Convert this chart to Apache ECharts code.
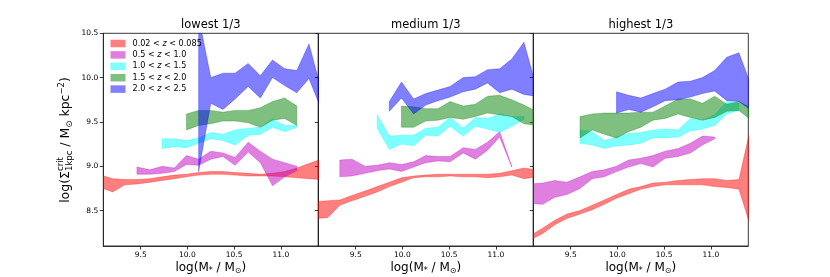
<!DOCTYPE html>
<html><head><meta charset="utf-8">
<script src="https://cdn.jsdelivr.net/npm/echarts@6/dist/echarts.min.js"></script>
<style>html,body{margin:0;padding:0;background:#fff}#c{width:830px;height:277px}</style>
</head><body><div id="c"></div>
<script>
// ---- data ----
const panelTitles = ['lowest 1/3', 'medium 1/3', 'highest 1/3'];
const zLabels = ['0.02 < z < 0.085', '0.5 < z < 1.0', '1.0 < z < 1.5', '1.5 < z < 2.0', '2.0 < z < 2.5'];
const xTicks = [9.5, 10.0, 10.5, 11.0];
const yTicks = [8.5, 9.0, 9.5, 10.0, 10.5];
const X = [9.07, 9.20, 9.33, 9.46, 9.60, 9.73, 9.86, 9.99, 10.12, 10.25, 10.38, 10.51, 10.65, 10.78, 10.91, 11.04, 11.17, 11.30, 11.43];
const _ = null;
// panel 1: lowest
const redLo1 = [8.76, 8.71, 8.79, 8.80, 8.82, 8.84, 8.86, 8.88, 8.90, 8.91, 8.91, 8.90, 8.89, 8.89, 8.89, 8.88, 8.87, 8.86, 8.85];
const redHi1 = [8.90, 8.86, 8.85, 8.85, 8.86, 8.88, 8.90, 8.91, 8.93, 8.94, 8.94, 8.93, 8.92, 8.91, 8.92, 8.94, 8.98, 9.03, 9.08];
const magLo1 = [_, _, _, 8.91, 8.91, 8.92, 8.94, 9.02, 9.01, 9.08, 9.11, 9.01, 9.16, 9.04, 8.78, 8.88, 8.95, _, _];
const magHi1 = [_, _, _, 8.99, 8.96, 9.00, 8.98, 9.12, 9.08, 9.17, 9.15, 9.10, 9.27, 9.17, 9.08, 9.04, 9.00, _, _];
const cyaLo1 = [_, _, _, _, _, 9.20, 9.22, 9.21, 9.26, 9.31, 9.29, 9.24, 9.35, 9.36, 9.44, 9.39, 9.44, _, _];
const cyaHi1 = [_, _, _, _, _, 9.31, 9.31, 9.29, 9.32, 9.38, 9.36, 9.41, 9.43, 9.44, 9.53, 9.46, 9.46, _, _];
const grnLo1 = [_, _, _, _, _, _, _, 9.41, 9.46, 9.48, 9.51, 9.51, 9.49, 9.44, 9.52, 9.54, 9.46, _, _];
const grnHi1 = [_, _, _, _, _, _, _, 9.59, 9.63, 9.63, 9.61, 9.63, 9.63, 9.66, 9.73, 9.77, 9.68, _, _];
const bluLo1 = [_, _, _, _, _, _, _, _, 8.94, 9.71, 9.64, 9.76, 9.90, 9.77, 10.00, 9.91, 9.83, 9.99, 9.65];
const bluHi1 = [_, _, _, _, _, _, _, _, 10.68, 10.00, 10.05, 10.05, 10.16, 10.02, 10.20, 10.10, 10.08, 10.38, 9.87];
// panel 2: medium
const redLo2 = [8.41, 8.42, 8.56, 8.61, 8.66, 8.71, 8.77, 8.82, 8.87, 8.88, 8.88, 8.89, 8.88, 8.88, 8.87, 8.88, 8.90, 8.86, 8.88];
const redHi2 = [8.60, 8.61, 8.62, 8.67, 8.72, 8.77, 8.82, 8.87, 8.89, 8.90, 8.91, 8.91, 8.91, 8.91, 8.91, 8.92, 8.95, 8.98, 8.96];
const magLo2 = [_, _, 8.88, 8.89, 8.92, 8.95, 8.97, 8.94, 8.99, 9.04, 9.06, 9.05, 9.15, 9.08, 9.18, 9.33, 8.99, _, _];
const magHi2 = [_, _, 9.07, 9.08, 9.00, 9.01, 9.04, 9.02, 9.05, 9.12, 9.11, 9.11, 9.21, 9.19, 9.27, 9.39, 9.00, _, _];
const cyaLo2 = [_, _, _, _, _, 9.43, 9.19, 9.25, 9.23, 9.35, 9.34, 9.45, 9.34, 9.45, 9.42, 9.38, 9.45, 9.53, _];
const cyaHi2 = [_, _, _, _, _, 9.58, 9.34, 9.35, 9.35, 9.43, 9.44, 9.55, 9.43, 9.55, 9.54, 9.59, 9.56, 9.56, _];
const grnLo2 = [_, _, _, _, _, _, _, 9.44, 9.44, 9.51, 9.52, 9.55, 9.53, 9.56, 9.60, 9.58, 9.56, 9.48, 9.46];
const grnHi2 = [_, _, _, _, _, _, _, 9.68, 9.67, 9.65, 9.65, 9.73, 9.68, 9.70, 9.79, 9.80, 9.75, 9.69, 9.62];
const bluLo2 = [_, _, _, _, _, _, 9.62, 9.77, 9.59, 9.69, 9.74, 9.78, 9.84, 9.87, 9.94, 9.83, 9.87, 9.81, 9.79];
const bluHi2 = [_, _, _, _, _, _, 9.73, 9.95, 9.76, 9.82, 9.86, 9.90, 10.00, 10.01, 10.09, 10.10, 10.21, 10.40, 9.90];
// panel 3: highest
const redLo3 = [8.17, 8.24, 8.34, 8.41, 8.46, 8.51, 8.57, 8.64, 8.69, 8.74, 8.77, 8.79, 8.79, 8.79, 8.79, 8.77, 8.76, 8.74, 8.30];
const redHi3 = [8.22, 8.30, 8.39, 8.46, 8.50, 8.56, 8.62, 8.68, 8.74, 8.77, 8.81, 8.82, 8.84, 8.85, 8.86, 8.86, 8.84, 8.85, 9.46];
const magLo3 = [8.58, 8.57, 8.65, 8.68, 8.75, 8.86, 8.88, 8.94, 8.99, 9.03, 8.99, 9.09, 9.11, 9.15, 9.24, 9.31, _, _, _];
const magHi3 = [8.80, 8.81, 8.84, 8.82, 8.88, 8.94, 8.96, 9.00, 9.07, 9.09, 9.12, 9.17, 9.20, 9.26, 9.34, 9.33, _, _, _];
const cyaLo3 = [_, _, _, _, 9.26, 9.24, 9.20, 9.23, 9.24, 9.26, 9.32, 9.32, 9.33, 9.40, 9.42, 9.46, 9.59, 9.63, _];
const cyaHi3 = [_, _, _, _, 9.41, 9.39, 9.29, 9.33, 9.37, 9.38, 9.41, 9.42, 9.41, 9.54, 9.52, 9.58, 9.73, 9.71, _];
const grnLo3 = [_, _, _, _, 9.32, 9.41, 9.36, 9.32, 9.39, 9.44, 9.52, 9.54, 9.59, 9.55, 9.52, 9.55, 9.62, 9.63, 9.52];
const grnHi3 = [_, _, _, _, 9.56, 9.59, 9.60, 9.60, 9.60, 9.61, 9.61, 9.68, 9.76, 9.76, 9.71, 9.79, 9.70, 9.73, 9.66];
const bluLo3 = [_, _, _, _, _, _, _, 9.60, 9.64, 9.61, 9.67, 9.74, 9.75, 9.78, 9.82, 9.85, 9.74, 9.73, 9.63];
const bluHi3 = [_, _, _, _, _, _, _, 9.84, 9.80, 9.77, 9.82, 9.87, 9.95, 9.96, 10.00, 10.08, 10.23, 10.28, 9.91];

const panels = [
  [[redLo1, redHi1], [magLo1, magHi1], [cyaLo1, cyaHi1], [grnLo1, grnHi1], [bluLo1, bluHi1]],
  [[redLo2, redHi2], [magLo2, magHi2], [cyaLo2, cyaHi2], [grnLo2, grnHi2], [bluLo2, bluHi2]],
  [[redLo3, redHi3], [magLo3, magHi3], [cyaLo3, cyaHi3], [grnLo3, grnHi3], [bluLo3, bluHi3]]
];

// ---- style ----
const COLORS = ['rgba(255,0,0,0.5)', 'rgba(191,0,191,0.5)', 'rgba(0,255,255,0.5)', 'rgba(0,128,0,0.5)', 'rgba(0,0,255,0.5)'];
const FONT = '"DejaVu Sans", sans-serif';
const GL = [103.3, 318.3, 533.3], GT = 33.3, GW = 215, GH = 212.7;

const chart = echarts.init(document.getElementById('c'), null, {renderer: 'canvas'});

function bandSeries(p, b, lo, hi) {
  const pts = [];
  X.forEach((x, i) => { if (lo[i] != null && hi[i] != null) pts.push([x, lo[i], hi[i]]); });
  return {
    type: 'custom', name: zLabels[b], xAxisIndex: p, yAxisIndex: p, clip: true, silent: true,
    itemStyle: {color: COLORS[b]},
    data: pts, encode: {x: 0, y: [1, 2]},
    renderItem: function (params, api) {
      if (params.dataIndex !== 0) return null;
      const upper = pts.map(d => api.coord([d[0], d[2]]));
      const lower = pts.map(d => api.coord([d[0], d[1]])).reverse();
      return {type: 'polygon', shape: {points: upper.concat(lower)},
        style: {fill: COLORS[b], stroke: COLORS[b], lineWidth: 0.6}};
    }
  };
}

const series = [];
panels.forEach((bands, p) => bands.forEach((bd, b) => series.push(bandSeries(p, b, bd[0], bd[1]))));

const axisLineStyle = {color: '#222', width: 0.9};
const grids = GL.map(l => ({left: l, top: GT, width: GW, height: GH, show: true, borderColor: '#222', borderWidth: 0.9, backgroundColor: 'transparent', containLabel: false}));
const xAxes = GL.map((l, p) => ({
  gridIndex: p, type: 'value', min: 9.1, max: 11.4,
  axisLine: {show: true, onZero: false, lineStyle: axisLineStyle},
  axisTick: {show: true, length: 3.5, customValues: xTicks, lineStyle: axisLineStyle},
  axisLabel: {customValues: xTicks, fontSize: 7.5, color: '#000', fontFamily: FONT, margin: 5, formatter: v => v.toFixed(1)},
  splitLine: {show: false}
}));
const yAxes = GL.map((l, p) => ({
  gridIndex: p, type: 'value', min: 8.1, max: 10.5,
  axisLine: {show: true, onZero: false, lineStyle: axisLineStyle},
  axisTick: {show: true, length: 3.5, customValues: yTicks, lineStyle: axisLineStyle},
  axisLabel: {show: p === 0, customValues: yTicks, fontSize: 7.5, color: '#000', fontFamily: FONT, margin: 5, formatter: v => v.toFixed(1)},
  splitLine: {show: false}
}));

// text layout helper for math-like labels
const mctx = document.createElement('canvas').getContext('2d');
function measure(t, s) { mctx.font = s + 'px ' + FONT; return mctx.measureText(t).width; }
function mathLabel(parts, cx, cy, rot) {
  let x = 0; const items = [];
  for (let i = 0; i < parts.length; i++) {
    const pt = parts[i];
    const w = measure(pt.t, pt.s);
    items.push({t: pt.t, s: pt.s, dy: pt.dy || 0, x: x});
    if (pt.stack) {
      const nx = parts[i + 1]; const w2 = measure(nx.t, nx.s);
      items.push({t: nx.t, s: nx.s, dy: nx.dy || 0, x: x});
      x += Math.max(w, w2); i++;
    } else x += w;
  }
  const W = x;
  return {
    type: 'group', x: cx, y: cy, rotation: rot || 0,
    children: items.map(it => ({type: 'text', x: it.x - W / 2, y: it.dy,
      style: {text: it.t, font: it.s + 'px ' + FONT, fill: '#000', verticalAlign: 'middle', align: 'left'}}))
  };
}

const yS = 12.5, ys = 8.5;
const yLabel = mathLabel([
  {t: 'log(Σ', s: yS}, {t: 'crit', s: ys, dy: -5, stack: true}, {t: '1kpc', s: ys, dy: 4},
  {t: ' / M', s: yS}, {t: '⊙', s: ys, dy: 3.5}, {t: ' kpc', s: yS}, {t: '−2', s: ys, dy: -4.5}, {t: ')', s: yS}
], 66, 140, Math.PI / 2);
const xS = 12, xs = 8;
const xLabels = GL.map(l => mathLabel([
  {t: 'log(M', s: xS}, {t: '*', s: xs, dy: 3.5}, {t: ' / M', s: xS}, {t: '⊙', s: xs, dy: 3.5}, {t: ')', s: xS}
], l + GW / 2, 267.5, 0));

const option = {
  backgroundColor: '#fff',
  animation: false,
  title: panelTitles.map((t, p) => ({text: t, left: GL[p] + GW / 2, top: 19, textAlign: 'center', padding: 0,
    textStyle: {fontSize: 11.5, fontWeight: 'normal', color: '#000', fontFamily: FONT}})),
  legend: {
    data: zLabels, orient: 'vertical', left: 110.5, top: 39.5, itemWidth: 15, itemHeight: 7.5, itemGap: 3.4,
    icon: 'rect', padding: 0, selectedMode: false,
    formatter: name => { const a = name.split(' z '); return '{n|' + a[0] + ' }{i|z}{n| ' + a[1] + '}'; },
    textStyle: {fontSize: 8.1, color: '#000', fontFamily: FONT, padding: [0, 0, 0, 2],
      rich: {n: {fontSize: 8.1, fontFamily: FONT, color: '#000'}, i: {fontSize: 8.1, fontFamily: FONT, fontStyle: 'italic', color: '#000'}}}
  },
  grid: grids, xAxis: xAxes, yAxis: yAxes,
  series: series,
  graphic: [yLabel].concat(xLabels)
};
chart.setOption(option);
</script></body></html>
